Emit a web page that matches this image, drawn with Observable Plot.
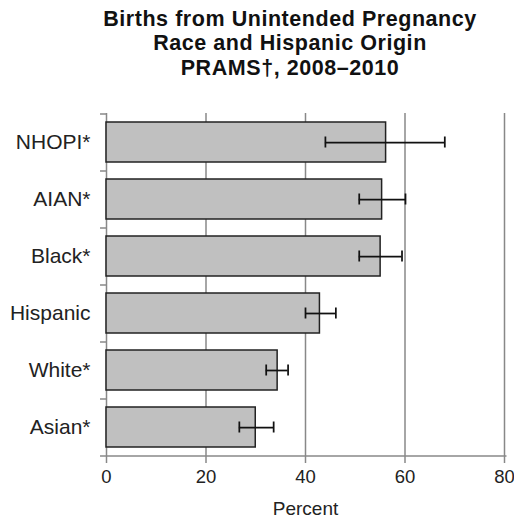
<!DOCTYPE html>
<html>
<head>
<meta charset="utf-8">
<script src="https://cdn.jsdelivr.net/npm/d3@7"></script>
<script src="https://cdn.jsdelivr.net/npm/@observablehq/plot@0.6"></script>
<style>
  html, body { margin: 0; padding: 0; background: #fff; }
  #wrap { position: relative; width: 514px; height: 517px; overflow: hidden; font-family: "Liberation Sans", Arial, sans-serif; }
  #title { position: relative; width: 514px; height: 85px; }
  .tl { position: absolute; left: 0; width: 580px; text-align: center; font-weight: bold; font-size: 21.5px; letter-spacing: 0.55px; line-height: 21.5px; color: #111; white-space: nowrap; }
  #chart svg { display: block; }
</style>
</head>
<body>
<div id="wrap">
  <div id="title">
    <div class="tl" style="top:9px">Births from Unintended Pregnancy</div>
    <div class="tl" style="top:32.5px">Race and Hispanic Origin</div>
    <div class="tl" style="top:57.5px">PRAMS†, 2008–2010</div>
  </div>
  <div id="chart"></div>
</div>
<script>
const categories = ["NHOPI*", "AIAN*", "Black*", "Hispanic", "White*", "Asian*"];
const percent    = [56.2, 55.4, 55.1, 42.9, 34.4, 30.0];
const lower      = [44.0, 50.8, 50.8, 40.0, 32.1, 26.7];
const upper      = [68.0, 60.1, 59.4, 46.1, 36.5, 33.6];
const xTicks     = [0, 20, 40, 60, 80];

const data = categories.map((c, i) => ({cat: c, value: percent[i], lo: lower[i], hi: upper[i]}));
const step = 342 / categories.length;

const chart = Plot.plot({
  width: 514,
  height: 432,
  marginTop: 28,
  marginBottom: 62,
  marginLeft: 106,
  marginRight: 10,
  style: {fontFamily: "'Liberation Sans', Arial, sans-serif", color: "#222", background: "#fff"},
  x: {domain: [0, 80]},
  y: {domain: categories, paddingInner: 0.3, paddingOuter: 0.15, align: 0.5},
  marks: [
    Plot.ruleX(xTicks.filter(d => d > 0), {stroke: "#888", strokeWidth: 1.5, strokeOpacity: 1}),
    Plot.ruleX([0], {stroke: "#888", strokeWidth: 1.5}),
    Plot.ruleY(categories, {y: d => d, x1: -1.2, x2: 0, dy: -step / 2, stroke: "#888", strokeWidth: 1.5}),
    Plot.ruleY([categories[categories.length - 1]], {y: d => d, x1: -1.2, x2: 80.5, dy: step / 2, stroke: "#888", strokeWidth: 1.5}),
    Plot.barX(data, {x: "value", y: "cat", fill: "#c0c0c0", stroke: "#222", strokeWidth: 1.5}),
    Plot.ruleY(data, {y: "cat", x1: "lo", x2: "hi", stroke: "#111", strokeWidth: 1.75}),
    Plot.tickX(data, {x: "lo", y: "cat", stroke: "#111", strokeWidth: 1.75, inset: 14.5}),
    Plot.tickX(data, {x: "hi", y: "cat", stroke: "#111", strokeWidth: 1.75, inset: 14.5}),
    Plot.axisX({ticks: xTicks, tickSize: 8, tickPadding: 6, stroke: "#888", strokeWidth: 1.5, fontSize: 18.5, label: null, anchor: "bottom"}),
    Plot.axisY({tickSize: 0, tickPadding: 16, fontSize: 21, label: null}),
    Plot.text(["Percent"], {frameAnchor: "bottom", dy: 59, fontSize: 19, fill: "#222"})
  ]
});
document.getElementById("chart").appendChild(chart);
</script>
</body>
</html>
